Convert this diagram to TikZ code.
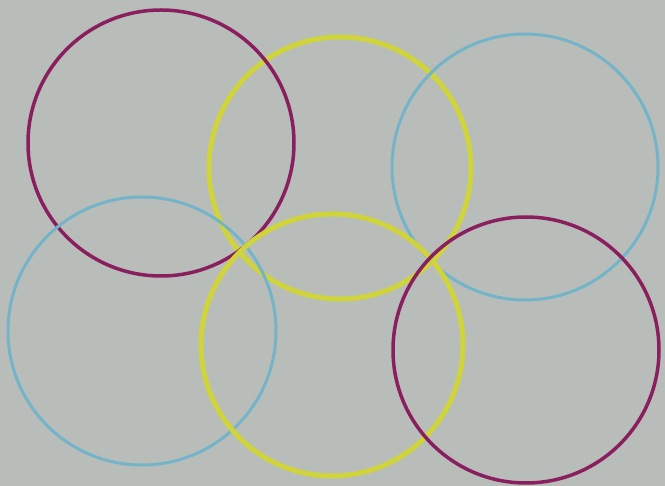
\documentclass[tikz,border=0pt]{standalone}
\definecolor{paper}{HTML}{B9BDBA}
\definecolor{ringM}{HTML}{8A1F5F}
\definecolor{ringY}{HTML}{CED43A}
\definecolor{ringB}{HTML}{74B4C8}
\tikzset{
  ringm/.style={draw=ringM, line width=3.5pt},
  ringy/.style={draw=ringY, line width=5pt},
  ringb/.style={draw=ringB, line width=3pt}
}
\begin{document}
\begin{tikzpicture}[x=1pt,y=-1pt]
\fill[paper] (0,0) rectangle (665,486);
\useasboundingbox (0,0) rectangle (665,486);
\draw[ringy] (340,168) circle (131);
\draw[ringb] (525,167) circle (133);
\draw[ringm] (161,143) circle (133);
\draw[ringb] (142,331) circle (134);
\draw[ringy] (332,345) circle (131);
\draw[ringm] (526,350) circle (133);
\end{tikzpicture}
\end{document}
